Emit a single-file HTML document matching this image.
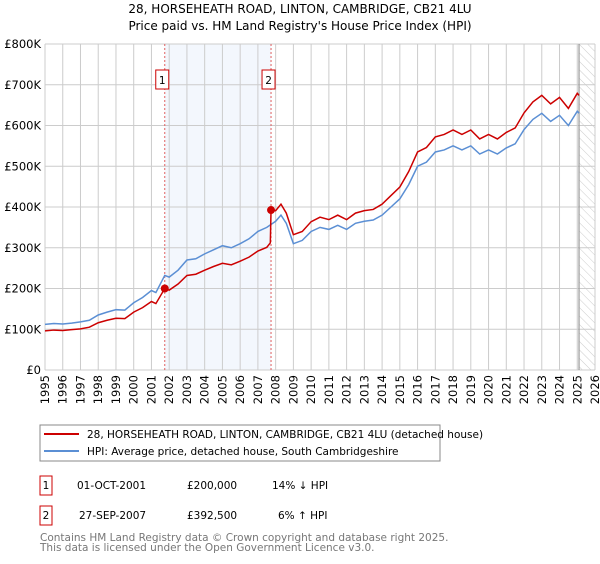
<!DOCTYPE html>
<html><head><meta charset="utf-8"><style>
body{margin:0;background:#fff;width:600px;height:560px;overflow:hidden;font-family:"DejaVu Sans","Liberation Sans",sans-serif}
svg text{font-family:"DejaVu Sans","Liberation Sans",sans-serif}
</style></head><body>
<svg id="c" width="600" height="560">
<defs><pattern id="hatch" width="6" height="6" patternUnits="userSpaceOnUse" patternTransform="rotate(-45)"><line x1="0" y1="0" x2="0" y2="6" stroke="#ccc" stroke-width="1"/></pattern></defs>
<text x="300" y="13" text-anchor="middle" font-size="12">28, HORSEHEATH ROAD, LINTON, CAMBRIDGE, CB21 4LU</text>
<text x="300" y="30" text-anchor="middle" font-size="12">Price paid vs. HM Land Registry's House Price Index (HPI)</text>
<g id="grid"></g><g id="marks"></g><g id="axes"></g>
<rect x="40" y="425" width="400" height="36" fill="#fff" stroke="#888"/>
<line x1="44" y1="434" x2="79" y2="434" stroke="#cc0000" stroke-width="2"/>
<text x="87" y="438" font-size="10.5">28, HORSEHEATH ROAD, LINTON, CAMBRIDGE, CB21 4LU (detached house)</text>
<line x1="44" y1="451" x2="79" y2="451" stroke="#5b8fd4" stroke-width="2"/>
<text x="87" y="455" font-size="10.5">HPI: Average price, detached house, South Cambridgeshire</text>
<g font-size="10.5">
<rect x="40" y="476" width="12" height="19" fill="none" stroke="#cc0000"/>
<text x="46" y="489" text-anchor="middle">1</text>
<text x="77" y="489">01-OCT-2001</text>
<text x="187" y="489">£200,000</text>
<text x="272" y="489">14% ↓ HPI</text>
<rect x="40" y="506" width="12" height="19" fill="none" stroke="#cc0000"/>
<text x="46" y="519" text-anchor="middle">2</text>
<text x="79" y="519">27-SEP-2007</text>
<text x="187" y="519">£392,500</text>
<text x="278" y="519">6% ↑ HPI</text>
</g>
<text x="40" y="541" font-size="10.5" fill="#777">Contains HM Land Registry data © Crown copyright and database right 2025.</text>
<text x="40" y="551" font-size="10.5" fill="#777">This data is licensed under the Open Government Licence v3.0.</text>
</svg>
<script>
const yTicks=[0,100,200,300,400,500,600,700,800];
const yLabels=["£0","£100K","£200K","£300K","£400K","£500K","£600K","£700K","£800K"];
const xYears=[1995,1996,1997,1998,1999,2000,2001,2002,2003,2004,2005,2006,2007,2008,2009,2010,2011,2012,2013,2014,2015,2016,2017,2018,2019,2020,2021,2022,2023,2024,2025,2026];
const hpiT=[1995,1995.5,1996,1996.5,1997,1997.5,1998,1998.5,1999,1999.5,2000,2000.5,2001,2001.25,2001.75,2002,2002.5,2003,2003.5,2004,2004.5,2005,2005.5,2006,2006.5,2007,2007.5,2008,2008.3,2008.6,2009,2009.5,2010,2010.5,2011,2011.5,2012,2012.5,2013,2013.5,2014,2014.5,2015,2015.5,2016,2016.5,2017,2017.5,2018,2018.5,2019,2019.5,2020,2020.5,2021,2021.5,2022,2022.5,2023,2023.5,2024,2024.5,2025,2025.1];
const hpiV=[112,114,113,115,118,122,135,142,148,147,165,178,195,190,232,228,245,270,273,285,295,305,300,310,322,340,350,365,380,360,310,318,340,350,345,355,345,360,365,368,380,400,420,455,500,510,535,540,550,540,550,530,540,530,545,555,590,615,630,610,625,600,635,630];
const priceT=[1995,1995.5,1996,1996.5,1997,1997.5,1998,1998.5,1999,1999.5,2000,2000.5,2001,2001.25,2001.75,2002,2002.5,2003,2003.5,2004,2004.5,2005,2005.5,2006,2006.5,2007,2007.5,2007.7,2007.74,2008,2008.3,2008.6,2009,2009.5,2010,2010.5,2011,2011.5,2012,2012.5,2013,2013.5,2014,2014.5,2015,2015.5,2016,2016.5,2017,2017.5,2018,2018.5,2019,2019.5,2020,2020.5,2021,2021.5,2022,2022.5,2023,2023.5,2024,2024.5,2025,2025.1];
const priceV=[96,98,97,99,101,105,116,122,127,126,142,153,168,163,200,196,211,232,235,245,254,262,258,267,277,292,301,312,392.5,391,407,385,332,340,364,375,369,380,369,385,391,394,407,428,449,487,535,546,572,578,589,578,589,567,578,567,583,594,631,658,674,653,669,642,679,674];
const saleT=[2001.75,2007.74];
const saleV=[200,392.5];
const saleLabels=["1","2"];
const X0=45,X1=595,Y0=370,Y1=44;
const x=t=>X0+(t-1995)/(2026-1995)*(X1-X0);
const y=v=>Y0-v/800*(Y0-Y1);
const NS="http://www.w3.org/2000/svg";
function mk(tag,attrs,parent,txt){const e=document.createElementNS(NS,tag);for(const k in attrs)e.setAttribute(k,attrs[k]);if(txt!==undefined)e.textContent=txt;document.getElementById(parent).appendChild(e);return e;}
let e;
e=mk('rect',{x:x(2001.75),y:Y1,width:x(2007.74)-x(2001.75),height:Y0-Y1,fill:'#eef3fc',opacity:0.7},'grid');


e=mk('rect',{x:x(2025.1),y:Y1,width:X1-x(2025.1),height:Y0-Y1,fill:'url(#hatch)'},'grid');


yTicks.forEach((v,i)=>{
  e=mk('line',{x1:X0,x2:X1,y1:y(v),y2:y(v),stroke:'#ccc'},'grid');
  
  
  e=mk('text',{x:X0-4,y:y(v)+4,'text-anchor':'end','font-size':11.5},'axes',yLabels[i]);
  
  
});
xYears.forEach(t=>{
  e=mk('line',{x1:x(t),x2:x(t),y1:Y1,y2:Y0,stroke:'#ccc'},'grid');
  
  
  e=mk('text',{x:0,y:0,'font-size':11.5,'text-anchor':'end',transform:`translate(${x(t)+4},${Y0+5}) rotate(-90)`},'axes',String(t));
  
  
});
e=mk('line',{x1:x(2025.1),x2:x(2025.1),y1:Y1,y2:Y0,stroke:'#999','stroke-width':1.2},'grid');


saleT.forEach((t,i)=>{
  e=mk('line',{x1:x(t),x2:x(t),y1:Y1,y2:Y0,stroke:'#e06060','stroke-dasharray':'2,2'},'marks');
  
  
  e=mk('rect',{x:x(t)-9,y:70,width:13,height:19,fill:'#fff',stroke:'#cc0000'},'marks');
  
  
  e=mk('text',{x:x(t)-2.5,y:84,'text-anchor':'middle','font-size':10.5},'marks',saleLabels[i]);
  
  
});
e=mk('polyline',{points:hpiT.map((t,i)=>x(t)+','+y(hpiV[i])).join(' '),fill:'none',stroke:'#5b8fd4','stroke-width':1.5},'marks');


e=mk('polyline',{points:priceT.map((t,i)=>x(t)+','+y(priceV[i])).join(' '),fill:'none',stroke:'#cc0000','stroke-width':1.5},'marks');


saleT.forEach((t,i)=>{
  e=mk('circle',{cx:x(t),cy:y(saleV[i]),r:4,fill:'#cc0000'},'marks');
  
  
});
</script>
</body></html>
